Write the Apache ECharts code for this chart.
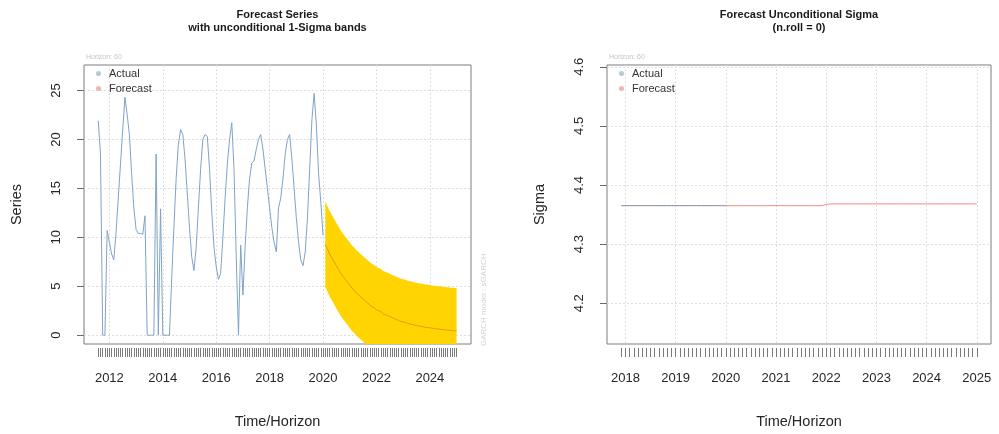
<!DOCTYPE html>
<html>
<head>
<meta charset="utf-8">
<script src="https://cdn.jsdelivr.net/npm/echarts@6/dist/echarts.min.js"></script>
<style>
  html, body { margin: 0; padding: 0; background: #ffffff; }
  #chart { width: 999px; height: 434px; }
</style>
</head>
<body>
<div id="chart"></div>
<script>
// ---- data -------------------------------------------------------------
// Observed monthly series, Aug 2011 – Jan 2020
const seriesStart = 2011 + 7 / 12;
const actualSeries = [
  21.9, 18.5, 0, 0, 10.7, 9.5, 8.3, 7.7, 10.5, 14, 17.5, 21,
  24.3, 22.5, 20.5, 16.5, 13, 10.8, 10.4, 10.4, 10.3, 12.2, 0, 0,
  0, 0, 18.5, 0, 12.9, 0, 0, 0, 0, 5.8, 11, 16,
  19.5, 21, 20.5, 18, 14.5, 11, 8, 6.6, 9, 13, 17, 20,
  20.5, 20.3, 17, 12.6, 9, 7, 5.7, 6.3, 10, 14, 17.5, 20,
  21.7, 17, 8, 0, 9.2, 4.1, 9, 13, 16, 17.6, 17.8, 19,
  20, 20.5, 19, 17, 15, 13, 11, 9.5, 8.5, 13, 14, 16,
  18.5, 20, 20.5, 18, 15, 12, 9.5, 7.7, 7.1, 8.5, 12, 17,
  22, 24.7, 21.5, 16.5, 13.6, 10.2
];

// 60-month forecast of the mean, Feb 2020 – Jan 2025
const forecastStart = 2020 + 1 / 12;
const forecastMean = [
  9.3, 8.8, 8.3, 7.9, 7.5, 7.1, 6.7, 6.3, 6.0, 5.7, 5.4,
  5.1, 4.8, 4.6, 4.3, 4.1, 3.9, 3.7, 3.5, 3.3, 3.1, 2.9, 2.8,
  2.6, 2.5, 2.4, 2.2, 2.1, 2.0, 1.9, 1.8, 1.7, 1.6, 1.5, 1.4,
  1.35, 1.3, 1.2, 1.15, 1.1, 1.05, 1.0, 0.95, 0.9, 0.85, 0.8, 0.78,
  0.75, 0.72, 0.68, 0.65, 0.62, 0.6, 0.57, 0.54, 0.52, 0.5, 0.48, 0.46,
  0.44
];

// Forecast unconditional sigma over the same horizon
const forecastSigma = [
  4.365, 4.365, 4.365, 4.365, 4.365, 4.365, 4.365, 4.365, 4.365, 4.365, 4.365,
  4.365, 4.365, 4.365, 4.365, 4.365, 4.365, 4.365, 4.365, 4.365, 4.365, 4.365, 4.365,
  4.367, 4.368, 4.368, 4.368, 4.368, 4.368, 4.368, 4.368, 4.368, 4.368, 4.368, 4.368,
  4.368, 4.368, 4.368, 4.368, 4.368, 4.368, 4.368, 4.368, 4.368, 4.368, 4.368, 4.368,
  4.368, 4.368, 4.368, 4.368, 4.368, 4.368, 4.368, 4.368, 4.368, 4.368, 4.368, 4.368,
  4.368
];

// In-sample sigma, Dec 2017 – Jan 2020
const sigmaStart = 2017 + 11 / 12;
const actualSigma = [
  4.365, 4.365, 4.365, 4.365, 4.365, 4.365, 4.365, 4.365, 4.365, 4.365, 4.365, 4.365, 4.365,
  4.365, 4.365, 4.365, 4.365, 4.365, 4.365, 4.365, 4.365, 4.365, 4.365, 4.365, 4.365, 4.365
];

// Axis ticks
const seriesYearLabels = [2012, 2014, 2016, 2018, 2020, 2022, 2024];
const sigmaYearLabels = [2018, 2019, 2020, 2021, 2022, 2023, 2024, 2025];
const seriesYTicks = [0, 5, 10, 15, 20, 25];
const sigmaYTicks = [4.2, 4.3, 4.4, 4.5, 4.6];

// ---- helpers ----------------------------------------------------------
const monthly = (start, n) => Array.from({ length: n }, (_, i) => start + i / 12);
const actualTimes = monthly(seriesStart, actualSeries.length);
const forecastTimes = monthly(forecastStart, forecastMean.length);
const sigmaTimes = monthly(sigmaStart, actualSigma.length);

const FONT = "'Liberation Sans', Arial, Helvetica, sans-serif";
const TEXT = '#262626';
const GRID_LINE = { show: true, lineStyle: { color: '#dedede', type: [2, 2], width: 1 } };

const actualPairs = actualTimes.map((t, i) => [t, actualSeries[i]]);
const meanPairs = forecastTimes.map((t, i) => [t, forecastMean[i]]);
const bandRows = forecastTimes.map((t, i) => [t, forecastMean[i] - forecastSigma[i], forecastMean[i] + forecastSigma[i]]);
const sigmaPairs = sigmaTimes.map((t, i) => [t, actualSigma[i]]);
// the sigma forecast path continues from the last in-sample value
const sigmaFcPairs = [sigmaPairs[sigmaPairs.length - 1]].concat(forecastTimes.map((t, i) => [t, forecastSigma[i]]));

function timeAxis(grid, min, max, ticks, labels) {
  return {
    gridIndex: grid, type: 'value', min: min, max: max, offset: 4, position: 'bottom',
    name: 'Time/Horizon', nameLocation: 'middle', nameGap: 66,
    nameTextStyle: { fontFamily: FONT, fontSize: 14.5, color: TEXT },
    axisLine: { show: false, onZero: false },
    axisTick: { show: true, customValues: ticks, length: 9, lineStyle: { color: '#7a7a7a', width: 1 } },
    axisLabel: { customValues: labels, margin: 24, fontFamily: FONT, fontSize: 13, color: TEXT, formatter: v => String(v) },
    splitLine: { show: false }
  };
}
function gridLineAxis(grid, min, max, at) {
  return {
    gridIndex: grid, type: 'value', min: min, max: max, position: 'top',
    axisLine: { show: false, onZero: false },
    axisTick: { show: false, customValues: at },
    axisLabel: { show: false, customValues: at },
    splitLine: GRID_LINE
  };
}
function valueAxis(grid, min, max, ticks, name, fmt) {
  return {
    gridIndex: grid, type: 'value', min: min, max: max,
    name: name, nameLocation: 'middle', nameGap: 60, nameRotate: 90,
    nameTextStyle: { fontFamily: FONT, fontSize: 14.5, color: TEXT },
    axisLine: { show: false, onZero: false },
    axisTick: { show: true, customValues: ticks, length: 7, lineStyle: { color: '#6a6a6a' } },
    axisLabel: { customValues: ticks, rotate: 90, margin: 21, fontFamily: FONT, fontSize: 13, color: TEXT, formatter: fmt },
    splitLine: GRID_LINE
  };
}
function legendAt(left) {
  return {
    left: left, top: 68, orient: 'vertical', padding: 0, itemGap: 4,
    icon: 'circle', itemWidth: 5, itemHeight: 5, selectedMode: false,
    textStyle: { fontFamily: FONT, fontSize: 11, color: '#333', padding: [0, 0, 0, 3] },
    data: [
      { name: 'Actual', itemStyle: { color: '#b4cbd3' } },
      { name: 'Forecast', itemStyle: { color: '#eeb4b8' } }
    ]
  };
}

const chart = echarts.init(document.getElementById('chart'), null, { renderer: 'canvas' });

chart.setOption({
  animation: false,
  backgroundColor: '#ffffff',
  grid: [
    { left: 84, top: 65, width: 387, height: 281, show: true, borderColor: '#7c7c7c', borderWidth: 1, containLabel: false },
    { left: 607, top: 65, width: 384, height: 281, show: true, borderColor: '#7c7c7c', borderWidth: 1, containLabel: false }
  ],
  xAxis: [
    timeAxis(0, 2011.05, 2025.54, actualTimes.concat(forecastTimes), seriesYearLabels),
    gridLineAxis(0, 2011.05, 2025.54, seriesYearLabels),
    timeAxis(1, 2017.633, 2025.283, sigmaTimes.concat(forecastTimes), sigmaYearLabels),
    gridLineAxis(1, 2017.633, 2025.283, sigmaYearLabels)
  ],
  yAxis: [
    valueAxis(0, -0.9, 27.6, seriesYTicks, 'Series', v => String(v)),
    valueAxis(1, 4.131, 4.603, sigmaYTicks, 'Sigma', v => Number(v).toFixed(1))
  ],
  legend: [legendAt(96), legendAt(619)],
  series: [
    {
      name: 'band', type: 'custom', xAxisIndex: 0, yAxisIndex: 0, clip: true, z: 1,
      silent: true, data: bandRows, encode: { x: 0, y: [1, 2] },
      renderItem: function (params, api) {
        if (params.dataIndex !== 0) return null;
        const cs = params.coordSys;
        const rect = { x: cs.x, y: cs.y, width: cs.width, height: cs.height };
        const upper = bandRows.map(r => api.coord([r[0], r[2]]));
        const lower = bandRows.map(r => api.coord([r[0], r[1]])).reverse();
        const pts = echarts.graphic.clipPointsByRect(upper.concat(lower), rect);
        return { type: 'polygon', shape: { points: pts }, style: { fill: '#ffd400', stroke: null } };
      }
    },
    {
      name: 'Actual', type: 'line', xAxisIndex: 0, yAxisIndex: 0, z: 3,
      data: actualPairs, showSymbol: false, symbol: 'none',
      lineStyle: { color: '#7fa3c8', width: 1 }, itemStyle: { color: '#b4cbd3' }
    },
    {
      name: 'Forecast', type: 'line', xAxisIndex: 0, yAxisIndex: 0, z: 3,
      data: meanPairs, showSymbol: false, symbol: 'none',
      lineStyle: { color: '#e69816', width: 1 }, itemStyle: { color: '#eeb4b8' }
    },
    {
      name: 'Actual', type: 'line', xAxisIndex: 2, yAxisIndex: 1, z: 3,
      data: sigmaPairs, showSymbol: false, symbol: 'none',
      lineStyle: { color: '#7f8b99', width: 1 }, itemStyle: { color: '#b4cbd3' }
    },
    {
      name: 'Forecast', type: 'line', xAxisIndex: 2, yAxisIndex: 1, z: 2,
      data: sigmaFcPairs, showSymbol: false, symbol: 'none',
      lineStyle: { color: '#f08a80', width: 1 }, itemStyle: { color: '#eeb4b8' }
    }
  ],
  graphic: [
    { type: 'text', x: 277.5, y: 8, style: { text: 'Forecast Series\nwith unconditional 1-Sigma bands', fontFamily: FONT, fontWeight: 'bold', fontSize: 11, lineHeight: 13.5, fill: '#1a1a1a', textAlign: 'center' } },
    { type: 'text', x: 799, y: 8, style: { text: 'Forecast Unconditional Sigma\n(n.roll = 0)', fontFamily: FONT, fontWeight: 'bold', fontSize: 11, lineHeight: 13.5, fill: '#1a1a1a', textAlign: 'center' } },
    { type: 'text', x: 86, y: 54, style: { text: 'Horizon: 60', fontFamily: FONT, fontSize: 7, fill: '#c4c4c4' } },
    { type: 'text', x: 609, y: 54, style: { text: 'Horizon: 60', fontFamily: FONT, fontSize: 7, fill: '#c4c4c4' } },
    { type: 'text', x: 484, y: 346, rotation: Math.PI / 2, style: { text: 'GARCH model : sGARCH', fontFamily: FONT, fontSize: 8, fill: '#d2d2d2', textVerticalAlign: 'middle' } }
  ]
});
</script>
</body>
</html>
